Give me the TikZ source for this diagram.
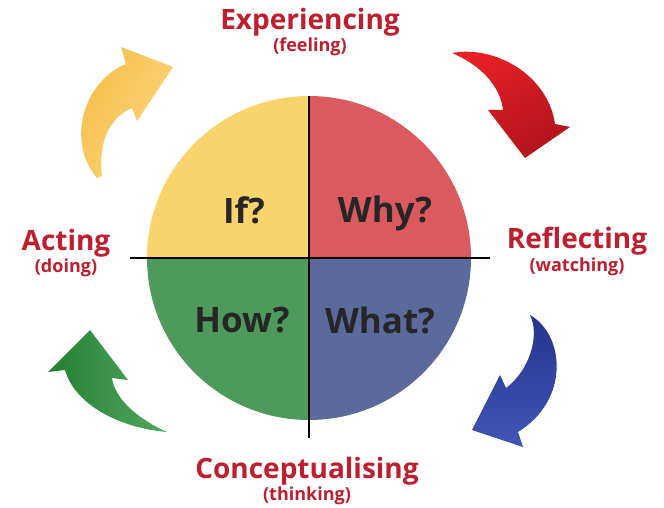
\documentclass[tikz,border=0pt]{standalone}
\usepackage{fontspec}
\setmainfont{Open Sans}
\definecolor{yq}{HTML}{F9D36C}
\definecolor{rq}{HTML}{DA5A60}
\definecolor{gq}{HTML}{4E9A5C}
\definecolor{bq}{HTML}{5B6A9D}
\definecolor{lab}{HTML}{BE1E2D}
\definecolor{qtext}{HTML}{262626}
\definecolor{ya}{HTML}{F5BC45}
\definecolor{yb}{HTML}{FCD67E}
\definecolor{ra}{HTML}{E82027}
\definecolor{rb}{HTML}{B3141B}
\definecolor{ba}{HTML}{24348F}
\definecolor{bb}{HTML}{4256B5}
\definecolor{ga}{HTML}{237F35}
\definecolor{gb}{HTML}{52A85E}
\tikzset{
  big/.style={font=\bfseries\fontsize{28}{30}\selectfont, text=lab, inner sep=0pt},
  small/.style={font=\bfseries\fontsize{18}{20}\selectfont, text=lab, inner sep=0pt},
  quad/.style={font=\bfseries\fontsize{35}{38}\selectfont, text=qtext, inner sep=0pt},
  axis/.style={line width=2pt, black}
}
\begin{document}
\begin{tikzpicture}[x=1pt,y=-1pt]
\useasboundingbox (0,0) rectangle (664,508);
\fill[white] (0,0) rectangle (664,508);
% quadrants
\begin{scope}\clip (140,90) rectangle (309,258); \fill[yq] (309,258) circle[radius=162]; \end{scope}
\begin{scope}\clip (309,90) rectangle (480,258); \fill[rq] (309,258) circle[radius=162]; \end{scope}
\begin{scope}\clip (140,258) rectangle (309,430); \fill[gq] (309,258) circle[radius=162]; \end{scope}
\begin{scope}\clip (309,258) rectangle (480,430); \fill[bq] (309,258) circle[radius=162]; \end{scope}
\coordinate (hl) at (130,258); \coordinate (hr) at (490,258);
\coordinate (vt) at (309,96); \coordinate (vb) at (309,438);
\draw[axis] (hl) -- (hr);
\draw[axis] (vt) -- (vb);
% quadrant words
\node[quad] (qif) at (244,210) {If?};
\node[quad] (qwhy) at (385,213) {Why?};
\node[quad] (qhow) at (242,320) {How?};
\node[quad] (qwhat) at (380,320) {What?};
% arrows
\shade[left color=ya, right color=yb, shading angle=60]
  (97,178) .. controls (65,140) and (85,80) .. (126,64) -- (121,47) -- (173,67) -- (137,121) -- (132,108)
  .. controls (108,118) and (98,145) .. (102,176) -- cycle;
\shade[top color=ra, bottom color=rb, shading angle=30]
  (452,53) .. controls (495,45) and (548,75) .. (555,124) -- (570,127) -- (525,158) -- (488,110) -- (503,110)
  .. controls (500,85) and (480,65) .. (452,53) -- cycle;
\shade[left color=ba, right color=bb, shading angle=0]
  (530,315) .. controls (565,335) and (570,400) .. (518,432) -- (523,447) -- (472,430) -- (500,375) -- (506,388)
  .. controls (530,370) and (540,335) .. (530,315) -- cycle;
\shade[left color=ga, right color=gb]
  (167,432) .. controls (120,428) and (75,405) .. (65,370) -- (48,372) -- (90,330) -- (128,380) -- (112,378)
  .. controls (115,400) and (140,420) .. (167,432) -- cycle;
% labels
\node[big] (exp) at (310,22) {Experiencing};
\node[small] (expf) at (310,47) {(feeling)};
\node[big] (ref) at (577,241) {Reflecting};
\node[small] (refw) at (577,267) {(watching)};
\node[big] (act) at (66,243) {Acting};
\node[small] (actd) at (66,268) {(doing)};
\node[big] (con) at (307,471) {Conceptualising};
\node[small] (cont) at (307,496) {(thinking)};
\end{tikzpicture}
\end{document}
